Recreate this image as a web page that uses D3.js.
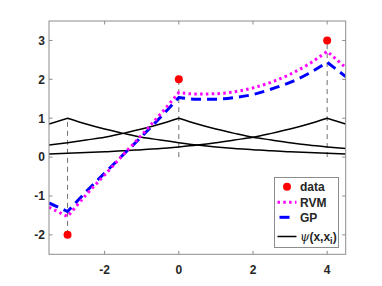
<!DOCTYPE html>
<html>
<head>
<meta charset="utf-8">
<script src="https://cdn.jsdelivr.net/npm/d3@7"></script>
<style>
  html, body { margin: 0; padding: 0; background: #fff; }
  svg { display: block; }
  text { font-family: "Liberation Sans", Arial, Helvetica, sans-serif; font-weight: bold; fill: #262626; }
</style>
</head>
<body>
<svg id="chart" width="382" height="286"></svg>
<script>
// ---- data ----
const dataX = [-3, 0, 4];
const dataY = [-2, 2, 3];
const sampleX = [-3.5, -3, -2.5, -2, -1.5, -1, -0.5, 0, 0.5, 1, 1.5, 2, 2.5, 3, 3.5, 4, 4.5];
const rvmY = [-1.29, -1.53, -0.97, -0.46, 0.06, 0.57, 1.10, 1.66, 1.62, 1.63, 1.68, 1.78, 1.93, 2.13, 2.39, 2.72, 2.30];
const gpY  = [-1.18, -1.40, -0.89, -0.41, 0.06, 0.53, 1.02, 1.53, 1.49, 1.49, 1.53, 1.61, 1.75, 1.92, 2.15, 2.44, 2.07];
const psi1 = [0.85, 1.00, 0.85, 0.72, 0.61, 0.51, 0.44, 0.37, 0.31, 0.26, 0.22, 0.19, 0.16, 0.14, 0.12, 0.10, 0.08];
const psi2 = [0.31, 0.37, 0.44, 0.51, 0.61, 0.72, 0.85, 1.00, 0.85, 0.72, 0.61, 0.51, 0.44, 0.37, 0.31, 0.26, 0.22];
const psi3 = [0.08, 0.10, 0.12, 0.14, 0.16, 0.19, 0.22, 0.26, 0.31, 0.37, 0.44, 0.51, 0.61, 0.72, 0.85, 1.00, 0.85];
const xTicks = [-2, 0, 2, 4];
const yTicks = [-2, -1, 0, 1, 2, 3];
const legendLabels = ["data", "RVM", "GP", "(x,x"];

// ---- layout ----
const svg = d3.select("#chart");
const L = 49, R = 345.7, T = 21, B = 254.3;
const x = d3.scaleLinear().domain([-3.5, 4.5]).range([L, R]);
const y = d3.scaleLinear().domain([-2.5, 3.5]).range([B, T]);

const g = svg.append("g");
g.append("defs").append("clipPath").attr("id", "clip")
  .append("rect").attr("x", L).attr("y", T).attr("width", R - L).attr("height", B - T);
const plot = g.append("g").attr("clip-path", "url(#clip)");

// piecewise smooth path with kinks at data x positions
function kinkedPath(ys) {
  const pts = sampleX.map((v, i) => [v, ys[i]]);
  const breaks = [-3.5, ...dataX, 4.5];
  const line = d3.line().x(d => x(d[0])).y(d => y(d[1])).curve(d3.curveMonotoneX);
  let path = "";
  for (let k = 0; k < breaks.length - 1; k++) {
    const seg = pts.filter(p => p[0] >= breaks[k] - 1e-9 && p[0] <= breaks[k + 1] + 1e-9);
    if (seg.length < 2) continue;
    let s = line(seg);
    if (path) s = "L" + s.slice(1);
    path += s;
  }
  return path;
}

// dashed stems
dataX.forEach((xv, i) => {
  const lo = Math.min(0, dataY[i]), hi = Math.max(1, dataY[i]);
  plot.append("line")
    .attr("x1", x(xv)).attr("x2", x(xv))
    .attr("y1", y(lo)).attr("y2", y(hi))
    .attr("stroke", "#707070").attr("stroke-width", 1)
    .attr("stroke-dasharray", "5,4");
});

// kernels
[psi1, psi2, psi3].forEach(p => {
  plot.append("path").attr("d", kinkedPath(p))
    .attr("fill", "none").attr("stroke", "#000").attr("stroke-width", 1.5);
});

// GP
plot.append("path").attr("d", kinkedPath(gpY))
  .attr("fill", "none").attr("stroke", "#0000ff").attr("stroke-width", 3)
  .attr("stroke-dasharray", "10,6");
// RVM
plot.append("path").attr("d", kinkedPath(rvmY))
  .attr("fill", "none").attr("stroke", "#ff00ff").attr("stroke-width", 3)
  .attr("stroke-dasharray", "2.5,3.3");

// data points
plot.selectAll("circle.data").data(dataX).enter().append("circle")
  .attr("cx", d => x(d)).attr("cy", (d, i) => y(dataY[i])).attr("r", 4)
  .attr("fill", "#ff0000");

// ---- axes box with inward ticks ----
const axisColor = "#8c8c8c";
const axG = g.append("g").attr("stroke", axisColor).attr("stroke-width", 1).attr("fill", "none");
axG.append("rect").attr("x", L).attr("y", T).attr("width", R - L).attr("height", B - T);
const tl = 3.5;
xTicks.forEach(t => {
  axG.append("line").attr("x1", x(t)).attr("x2", x(t)).attr("y1", B).attr("y2", B - tl);
  axG.append("line").attr("x1", x(t)).attr("x2", x(t)).attr("y1", T).attr("y2", T + tl);
});
yTicks.forEach(t => {
  axG.append("line").attr("x1", L).attr("x2", L + tl).attr("y1", y(t)).attr("y2", y(t));
  axG.append("line").attr("x1", R).attr("x2", R - tl).attr("y1", y(t)).attr("y2", y(t));
});
g.selectAll("text.xt").data(xTicks).enter().append("text")
  .attr("x", d => x(d)).attr("y", 273.5).attr("text-anchor", "middle")
  .attr("font-size", 12).text(d => d < 0 ? "-" + Math.abs(d) : d);
g.selectAll("text.yt").data(yTicks).enter().append("text")
  .attr("x", 45).attr("y", d => y(d) + 4.3).attr("text-anchor", "end")
  .attr("font-size", 12).text(d => d < 0 ? "-" + Math.abs(d) : d);

// ---- legend ----
const lg = g.append("g");
lg.append("rect").attr("x", 274.5).attr("y", 177.5).attr("width", 64).attr("height", 70)
  .attr("fill", "#fff").attr("stroke", axisColor).attr("stroke-width", 1);
const rows = [186.7, 202.3, 217.3, 236.5];
const lx1 = 277.5, lx2 = 296.5, tx = 300;
lg.append("circle").attr("cx", (lx1 + lx2) / 2).attr("cy", rows[0]).attr("r", 4).attr("fill", "#ff0000");
lg.append("line").attr("x1", lx1).attr("x2", lx2).attr("y1", rows[1]).attr("y2", rows[1])
  .attr("stroke", "#ff00ff").attr("stroke-width", 3).attr("stroke-dasharray", "2.5,3.3");
lg.append("line").attr("x1", lx1 + 2).attr("x2", lx2 - 2).attr("y1", rows[2]).attr("y2", rows[2])
  .attr("stroke", "#0000ff").attr("stroke-width", 3).attr("stroke-dasharray", "10,6");
lg.append("line").attr("x1", lx1).attr("x2", lx2).attr("y1", rows[3]).attr("y2", rows[3])
  .attr("stroke", "#000").attr("stroke-width", 1.5);
legendLabels.forEach((lab, i) => {
  const t = lg.append("text").attr("x", tx).attr("y", rows[i] + 4.3).attr("font-size", 12);
  if (i === 3) {
    t.append("tspan").attr("font-family", "'DejaVu Serif', serif").attr("font-style", "italic")
      .attr("font-weight", "normal").text("ψ");
    t.append("tspan").text(lab);
    t.append("tspan").attr("font-size", 9).attr("dy", 3.5).text("i");
    t.append("tspan").attr("dy", -3.5).text(")");
  } else {
    t.text(lab);
  }
});
</script>
</body>
</html>
